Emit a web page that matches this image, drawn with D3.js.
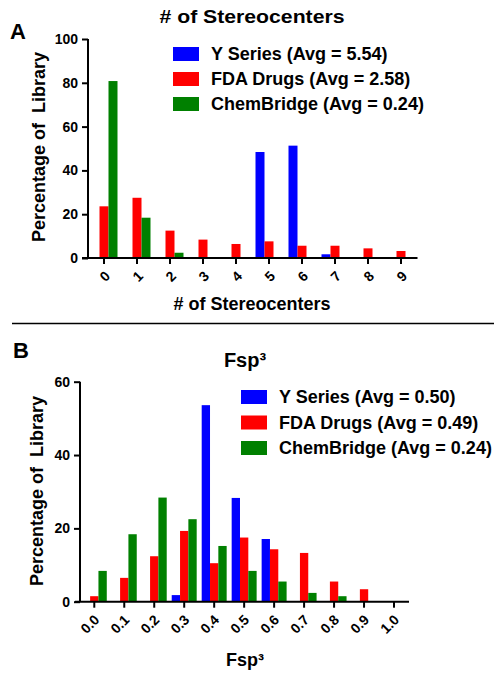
<!DOCTYPE html>
<html><head><meta charset="utf-8">
<script src="https://cdn.jsdelivr.net/npm/d3@7"></script>
<style>
html,body{margin:0;padding:0;background:#fff;}
text{font-family:"Liberation Sans",Arial,sans-serif;font-weight:bold;fill:#000;}
</style></head>
<body>
<svg id="c" width="504" height="680"></svg>
<script>
const seriesNames = ["Y Series", "FDA Drugs", "ChemBridge"];
const colors = ["#0000ff", "#ff0000", "#008000"];

// Panel A: # of Stereocenters
const stereoCats = ["0","1","2","3","4","5","6","7","8","9"];
const stereoY   = [0, 0, 0, 0, 0, 48.4, 51.3, 1.7, 0, 0];
const stereoFDA = [23.6, 27.5, 12.5, 8.4, 6.4, 7.6, 5.6, 5.6, 4.4, 3.2];
const stereoCB  = [80.8, 18.4, 2.4, 0, 0, 0, 0, 0, 0, 0];
const stereoLegend = ["Y Series (Avg = 5.54)", "FDA Drugs (Avg = 2.58)", "ChemBridge (Avg = 0.24)"];
const stereoYTicks = [0, 20, 40, 60, 80, 100];

// Panel B: Fsp3
const fspCats = ["0.0","0.1","0.2","0.3","0.4","0.5","0.6","0.7","0.8","0.9","1.0"];
const fspY   = [0, 0, 0, 1.8, 53.6, 28.3, 17.1, 0, 0, 0, 0];
const fspFDA = [1.5, 6.5, 12.4, 19.3, 10.5, 17.5, 14.3, 13.3, 5.5, 3.4, 0];
const fspCB  = [8.4, 18.4, 28.4, 22.5, 15.2, 8.4, 5.5, 2.4, 1.5, 0, 0];
const fspLegend = ["Y Series (Avg = 0.50)", "FDA Drugs (Avg = 0.49)", "ChemBridge (Avg = 0.24)"];
const fspYTicks = [0, 20, 40, 60];

const svg = d3.select("#c");

function panel(cfg) {
  const g = svg.append("g");
  const x = d3.scaleBand().domain(cfg.cats).range(cfg.xRange).padding(0);
  const x1 = d3.scaleBand().domain(seriesNames).range([cfg.innerPad, x.bandwidth() - cfg.innerPad]).padding(0);
  const y = d3.scaleLinear().domain([0, cfg.yMax]).range(cfg.yRange);
  const data = cfg.cats.map((c, i) => ({cat: c, vals: cfg.series.map((s, k) => ({name: seriesNames[k], v: s[i], col: colors[k]}))}));

  // bars
  const grp = g.selectAll("g.cat").data(data).join("g").attr("transform", d => `translate(${x(d.cat)},0)`);
  grp.selectAll("rect").data(d => d.vals.filter(v => v.v > 0)).join("rect")
    .attr("x", d => x1(d.name)).attr("width", x1.bandwidth())
    .attr("y", d => y(d.v)).attr("height", d => y(0) - y(d.v))
    .attr("fill", d => d.col);

  // y axis
  const ya = g.append("g").attr("transform", `translate(${cfg.yAxisX},0)`)
    .call(d3.axisLeft(y).tickValues(cfg.yTicks).tickSize(6).tickPadding(4).tickFormat(d3.format("d")));
  ya.select(".domain").attr("stroke-width", 2).attr("d", `M0,${y(cfg.yMax)}V${y(0)}`);
  ya.selectAll(".tick line").attr("stroke-width", 2);
  ya.selectAll("text").style("font-size", "14px").style("font-family", '"Liberation Sans",Arial,sans-serif').style("font-weight", "bold");

  // x axis
  const xa = g.append("g").attr("transform", `translate(0,${y(0)})`)
    .call(d3.axisBottom(x).tickSize(6).tickFormat(""));
  xa.select(".domain").attr("stroke-width", 2).attr("d", `M${cfg.xLineStart},0H${cfg.xRange[1]}`);
  xa.selectAll(".tick line").attr("stroke-width", 2);
  xa.selectAll(".tick").append("text")
    .attr("transform", `translate(${cfg.lblDx},${cfg.lblDy}) rotate(-45)`)
    .attr("text-anchor", "end").attr("dy", "0.7em")
    .style("font-size", "14px").attr("fill", "#000")
    .text(d => d);

  // titles
  const t = g.append("text").attr("x", cfg.titleX).attr("y", cfg.titleY).attr("text-anchor", "middle")
    .style("font-size", cfg.titleSize).text(cfg.title);
  if (cfg.titleLen) t.attr("textLength", cfg.titleLen).attr("lengthAdjust", "spacingAndGlyphs");
  g.append("text").attr("x", cfg.titleX).attr("y", cfg.xLabelY).attr("text-anchor", "middle")
    .style("font-size", "18px").text(cfg.xLabel);
  g.append("text").attr("transform", `translate(${cfg.yLabelX},${cfg.yLabelCY}) rotate(-90)`)
    .attr("text-anchor", "middle").style("font-size", "18px").style("white-space", "pre")
    .attr("xml:space", "preserve").text("Percentage of  Library");
  g.append("text").attr("x", cfg.letterX).attr("y", cfg.letterY).style("font-size", "22px").text(cfg.letter);

  // legend
  const lg = g.append("g");
  cfg.legend.forEach((t, k) => {
    const cy = cfg.legY + k * cfg.legStep;
    lg.append("rect").attr("x", cfg.legX).attr("y", cy - 7).attr("width", 26).attr("height", 14).attr("fill", colors[k]);
    lg.append("text").attr("x", cfg.legX + 38).attr("y", cy).attr("dy", "0.36em").style("font-size", "18px").text(t);
  });
}

panel({
  cats: stereoCats, series: [stereoY, stereoFDA, stereoCB], yMax: 100, yTicks: stereoYTicks,
  xRange: [87.5, 417.5], innerPad: 3, yRange: [258, 39], yAxisX: 88, xLineStart: 82,
  lblDx: 0, lblDy: 12, title: "# of Stereocenters", titleX: 252, titleY: 23, titleSize: "19px", titleLen: 185,
  xLabel: "# of Stereocenters", xLabelY: 310, yLabelX: 45, yLabelCY: 147,
  letter: "A", letterX: 10, letterY: 39,
  legend: stereoLegend, legX: 173, legY: 54, legStep: 25
});

panel({
  cats: fspCats, series: [fspY, fspFDA, fspCB], yMax: 60, yTicks: fspYTicks,
  xRange: [79.3, 409], innerPad: 2.5, yRange: [601.7, 381.7], yAxisX: 80, xLineStart: 75,
  lblDx: -1, lblDy: 12, title: "Fsp³", titleX: 245, titleY: 367, titleSize: "20px", titleLen: null,
  xLabel: "Fsp³", xLabelY: 666, yLabelX: 43, yLabelCY: 491,
  letter: "B", letterX: 13, letterY: 358,
  legend: fspLegend, legX: 241, legY: 397, legStep: 25.5
});

// separator line
svg.append("line").attr("x1", 12).attr("x2", 494).attr("y1", 323.5).attr("y2", 323.5)
  .attr("stroke", "#000").attr("stroke-width", 1.5);
</script>
</body></html>
